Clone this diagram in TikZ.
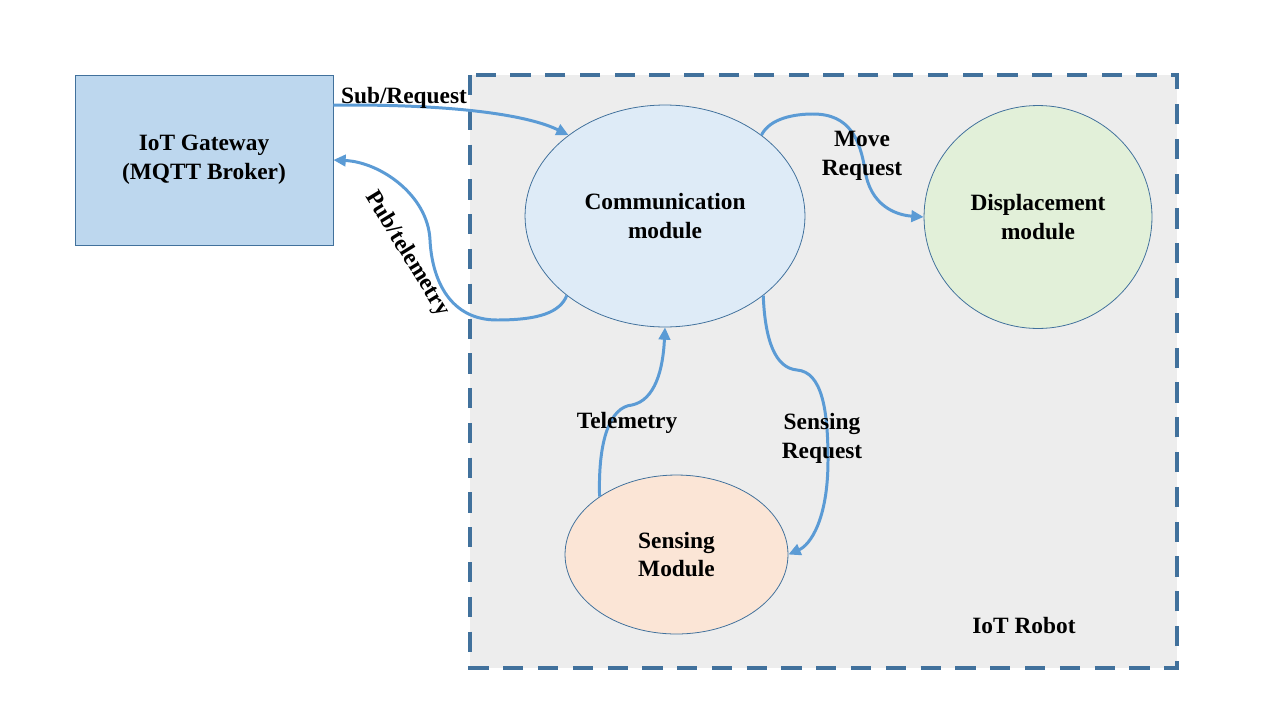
\documentclass[tikz,border=0pt]{standalone}
\usepackage{fontspec}
\setmainfont{Liberation Serif}
\usetikzlibrary{arrows.meta, shapes.geometric}
\definecolor{frameblue}{HTML}{41719C}
\definecolor{flowblue}{HTML}{5B9BD5}
\definecolor{robotgray}{HTML}{EDEDED}
\definecolor{gwfill}{HTML}{BDD7EE}
\definecolor{commfill}{HTML}{DEEBF7}
\definecolor{dispfill}{HTML}{E2F0D9}
\definecolor{sensfill}{HTML}{FBE5D6}
\begin{document}
\begin{tikzpicture}[x=0.02cm, y=-0.02cm,
  every node/.style={font=\fontsize{13.3}{16.4}\selectfont\bfseries, align=center},
  module/.style={ellipse, draw=frameblue, line width=0.45pt, inner sep=0pt},
  flow/.style={draw=flowblue, line width=1.7pt, -{Triangle[length=7pt,width=6.5pt]}},
  flowlabel/.style={inner sep=1pt}
]
  \useasboundingbox (0,0) rectangle (1280,720);
  \draw[frameblue, fill=robotgray, line width=2.3pt, dash pattern=on 11.5pt off 8.3pt]
    (470,75) rectangle (1177,668);
  \node (robot) at (1024,625) {IoT Robot};
  \node (gw) [draw=frameblue, line width=0.45pt, fill=gwfill,
    minimum width=5.16cm, minimum height=3.4cm] at (204,160) {IoT Gateway\\(MQTT Broker)};
  \node (comm) [module, fill=commfill, minimum width=5.6cm, minimum height=4.44cm]
    at (665,216) {Communication\\module};
  \node (disp) [module, fill=dispfill, minimum width=4.56cm, minimum height=4.46cm]
    at (1038,217) {Displacement\\module};
  \node (sens) [module, fill=sensfill, minimum width=4.46cm, minimum height=3.18cm]
    at (676.5,554.5) {Sensing\\Module};
  \draw[flow] (gw.23) .. controls (460,104) and (530,116) .. (comm.140.7);
  \node (sub) [flowlabel] at (404,98) {Sub/Request};
  \draw[flow] (comm.219) .. controls (560,312) and (540,320) .. (497,320)
    .. controls (450,320) and (432,280) .. (430,240)
    .. controls (428,195) and (380,162) .. (gw.east);
  \node (pub) [flowlabel, rotate=-58.5] at (407,254) {Pub/telemetry};
  \draw[flow] (comm.40) .. controls (770,118) and (795,114) .. (813,114)
    .. controls (850,114) and (860,140) .. (865,170)
    .. controls (870,205) and (895,215) .. (disp.west);
  \node (move) [flowlabel] at (862,156) {Move\\Request};
  \draw[flow] (sens.143.8) .. controls (598,440) and (610,407) .. (632,405)
    .. controls (655,400) and (663,370) .. (comm.south);
  \node (tele) [flowlabel] at (627,423) {Telemetry};
  \draw[flow] (comm.-39) .. controls (765,340) and (775,368) .. (797,370)
    .. controls (822,372) and (828,410) .. (828,460)
    .. controls (828,520) and (810,545) .. (sens.east);
  \node (sreq) [flowlabel] at (822,438) {Sensing\\Request};
\end{tikzpicture}
\end{document}
